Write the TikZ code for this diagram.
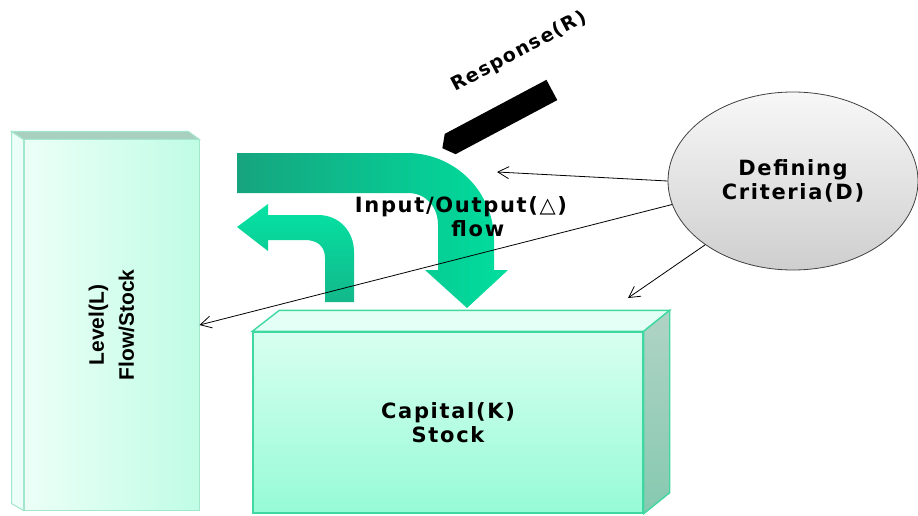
\documentclass[tikz,border=0pt]{standalone}
\usepackage{fontspec}
\newfontfamily\boxfont[LetterSpace=8]{DejaVu Sans}
\newfontfamily\levelfont{Liberation Sans}
\usetikzlibrary{arrows.meta,shapes.geometric,shapes.arrows}

\definecolor{levL}{HTML}{ECFFF8}
\definecolor{levR}{HTML}{C0FDE5}
\definecolor{levedge}{HTML}{A2E6CC}
\definecolor{levtop}{HTML}{A8CFC0}
\definecolor{capT}{HTML}{D8FFF1}
\definecolor{capB}{HTML}{96FBD6}
\definecolor{capedge}{HTML}{3FD8A0}
\definecolor{sideT}{HTML}{B0D3C5}
\definecolor{sideB}{HTML}{86C9B0}
\definecolor{flowL}{HTML}{16A47F}
\definecolor{flowR}{HTML}{00DE9E}
\definecolor{backT}{HTML}{04E3A3}
\definecolor{backB}{HTML}{13B88B}

\tikzstyle{block} = [rectangle, inner sep=0pt, align=center,
font=\boxfont\bfseries\fontsize{21}{24}\selectfont]
\tikzstyle{line} = [draw, line width=0.8pt, -{Straight Barb[length=11pt,width=12pt]}]
\tikzstyle{bigflow} = [left color=flowL, right color=flowR]
\tikzstyle{backflow} = [top color=backT, bottom color=backB]

\begin{document}
\begin{tikzpicture}[x=1pt,y=-1pt]
\useasboundingbox (0,0) rectangle (918,516);

% level box with its left and top faces
\node (Level) [block, minimum width=175pt, minimum height=370pt, left color=levL, right color=levR, draw=levedge, line width=1pt] at (111.5,325) {};
\filldraw[fill=levtop, draw=levedge, line width=1pt] (Level.north west) -- ++(-12,-8) -- ([shift={(-11,-8)}]Level.north east) -- (Level.north east) -- cycle;
\filldraw[fill=levL, draw=levedge, line width=1pt] (Level.north west) -- ++(-12,-8) -- ([shift={(-12,-7)}]Level.south west) -- (Level.south west) -- cycle;
\node (Leveltext) [rotate=90, align=center, font=\levelfont\bfseries\fontsize{21}{30}\selectfont] at (Level.center) {Level(L)\\Flow/Stock};

% capital box with its top and right faces
\node (Capital) [block, minimum width=390pt, minimum height=181pt, top color=capT, bottom color=capB, draw=capedge, line width=1.4pt] at (448,422.5) {Capital(K)\\Stock};
\filldraw[fill=capT!70!white, draw=capedge, line width=1.4pt] (Capital.north west) -- ++(27,-21) -- ([shift={(26,-21)}]Capital.north east) -- (Capital.north east) -- cycle;
\filldraw[top color=sideT, bottom color=sideB, draw=capedge, line width=1.4pt] (Capital.north east) -- ++(26,-21) -- ([shift={(26,-21)}]Capital.south east) -- (Capital.south east) -- cycle;

% flows
\path[bigflow] (237,153) -- (407,153) .. controls (455,153) and (494,192) .. (494,240) -- (494,270) -- (508,270) -- (467,308) -- (425,270) -- (438,270) -- (438,225) .. controls (438,207) and (426,193) .. (408,193) -- (237,193) -- cycle;
\path[backflow] (325,302) -- (325,258) .. controls (325,246) and (317,240) .. (305,240) -- (268,240) -- (268,251) -- (237,227) -- (268,204) -- (268,215) -- (318,215) .. controls (340,215) and (354,232) .. (354,252) -- (354,302) -- cycle;
\node (IO) [block] at (461,217) {Input/Output(△)\\\hspace*{1.6em}flow};

% response
\node (Response) [single arrow, fill=black, minimum width=23pt, minimum height=124pt, single arrow head extend=0pt, single arrow tip angle=105, inner sep=0pt, rotate=208] at (501,117) {};
\node (Rtext) [block, rotate=28, font=\boxfont\bfseries\fontsize{19}{22}\selectfont] at (519,52) {Response(R)};

% criteria
\node (Criteria) [block, ellipse, minimum width=250pt, minimum height=178pt, top color=gray!6, bottom color=gray!38, draw=black!75, line width=0.8pt] at (793,181) {Defining\\Criteria(D)};
\coordinate (Rtip) at (497,172);
\coordinate (Ktop) at (628,298);

\path [line] (Criteria.west) -- (Rtip);
\path [line] (Criteria.191) -- (Level.east);
\path [line] (Criteria.216) -- (Ktop);

\end{tikzpicture}
\end{document}
